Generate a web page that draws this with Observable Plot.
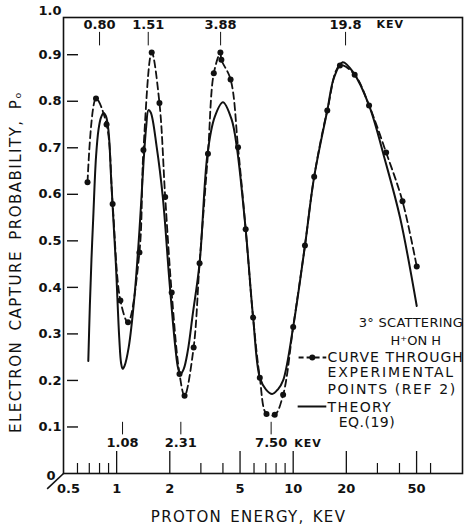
<!DOCTYPE html>
<html><head><meta charset="utf-8">
<script src="https://cdn.jsdelivr.net/npm/d3@7"></script>
<script src="https://cdn.jsdelivr.net/npm/@observablehq/plot@0.6"></script>
<style>
html,body{margin:0;padding:0;background:#fff;}
svg text{font-family:"DejaVu Sans",sans-serif;}
</style></head><body><div id="chart"></div>
<script>
// Experimental points (REF 2): proton energy (keV) and capture probability
const expE = [0.684,0.764,0.877,0.949,1.05,1.16,1.346,1.418,1.58,1.748,1.884,2.05,2.27,2.425,2.73,2.95,3.29,3.55,3.87,3.92,4.42,4.87,5.38,5.93,6.47,7.06,7.86,8.77,10.0,11.66,13.15,15.6,18.4,22.3,26.9,33.6,41.6,50.1];
const expP = [0.626,0.806,0.750,0.579,0.372,0.325,0.475,0.695,0.905,0.796,0.594,0.389,0.214,0.167,0.271,0.452,0.687,0.860,0.905,0.889,0.847,0.701,0.525,0.335,0.206,0.128,0.126,0.169,0.315,0.49,0.638,0.78,0.877,0.857,0.791,0.69,0.585,0.445];
// Theory, Eq. (19)
const theoryE = [0.691,0.705,0.72,0.737,0.764,0.79,0.815,0.844,0.87,0.90,0.929,0.96,0.99,1.035,1.06,1.081,1.11,1.17,1.26,1.346,1.418,1.47,1.514,1.56,1.687,1.826,1.99,2.15,2.23,2.30,2.40,2.53,2.70,2.95,3.27,3.59,4.0,4.47,4.8,5.38,5.93,6.47,7.0,7.6,8.2,8.77,10.0,11.66,13.15,15.6,17.0,19.06,21.9,26.9,33.2,40.3,50.1];
const theoryP = [0.242,0.36,0.46,0.55,0.68,0.74,0.765,0.775,0.768,0.735,0.64,0.54,0.45,0.29,0.237,0.225,0.232,0.271,0.378,0.522,0.665,0.745,0.781,0.776,0.701,0.594,0.414,0.271,0.226,0.214,0.225,0.264,0.343,0.452,0.687,0.766,0.798,0.762,0.70,0.525,0.335,0.206,0.181,0.171,0.181,0.20,0.315,0.49,0.638,0.78,0.85,0.884,0.862,0.791,0.672,0.55,0.36];

const yTicks = [0.1,0.2,0.3,0.4,0.5,0.6,0.7,0.8,0.9];
const yTickLabels = ["0.1","0.2","0.3","0.4","0.5","0.6","0.7","0.8","0.9"];
const xTickValues = [1,2,5,10,20,50];
const xTickLabels = ["1","2","5","10","20","50"];
const xMajor = [1,2,5,10,20,50];
const xMinor = [0.6,0.7,0.8,0.9,3,4,6,7,8,9,30,40,60];
const peakE = [0.80,1.51,3.88,19.8];
const peakLabels = ["0.80","1.51","3.88","19.8"];
const minE = [1.08,2.31,7.50];
const minLabels = ["1.08","2.31","7.50"];

const exp = expE.map((e,i)=>({e, p: expP[i]}));
const theory = theoryE.map((e,i)=>({e, p: theoryP[i]}));
const ink = "#111";
const B = {fontSize: 13, fontWeight: "bold", fill: ink};

const svg = Plot.plot({
  width: 465, height: 529,
  marginLeft: 63, marginRight: 3, marginTop: 17, marginBottom: 56,
  x: {type: "log", domain: [0.5, 91], axis: null},
  y: {domain: [0, 0.98], axis: null},
  style: {background: "#fff", color: ink},
  marks: [
    Plot.frame({stroke: ink, strokeWidth: 1.6}),
    Plot.tickY(yTicks, {y: d=>d, insetLeft: 4, insetRight: 384, strokeWidth: 1.4, stroke: ink}),
    Plot.tickX(xMajor, {x: d=>d, insetTop: 434, strokeWidth: 1.3, stroke: ink}),
    Plot.tickX(xMinor, {x: d=>d, insetTop: 446, strokeWidth: 1.2, stroke: ink}),
    Plot.text(yTicks, {x: 0.5, y: d=>d, text: (d,i)=>yTickLabels[i], textAnchor: "end", dx: -2, ...B}),
    Plot.text(["1.0"], {x: 0.5, y: 1.0, text: d=>d, textAnchor: "end", dx: -2, dy: 3, ...B}),
    Plot.text(["0"], {x: 0.5, y: 0, text: d=>d, textAnchor: "end", dx: -8, dy: 2, ...B}),
    Plot.link([0], {x1: 0.404, y1: -0.033, x2: 0.5, y2: 0, stroke: ink, strokeWidth: 1.6}),
    Plot.text(xTickValues, {x: d=>d, y: 0, text: (d,i)=>xTickLabels[i], dy: 15, ...B}),
    Plot.text(["0.5"], {x: 0.5, y: 0, text: d=>d, dy: 15, dx: 5, ...B}),
    // data
    Plot.line(theory, {x: "e", y: "p", curve: "catmull-rom", stroke: ink, strokeWidth: 2}),
    Plot.line(exp, {x: "e", y: "p", curve: "catmull-rom", stroke: ink, strokeWidth: 1.8, strokeDasharray: "7,4"}),
    Plot.dot(exp, {x: "e", y: "p", r: 3, fill: ink}),
    // peak / minimum annotations
    Plot.ruleX(peakE, {x: d=>d, y1: 0.919, y2: 0.948, stroke: ink, strokeWidth: 1}),
    Plot.text(peakE, {x: d=>d, y: 0.965, text: (d,i)=>peakLabels[i], ...B}),
    Plot.text([19.8], {x: d=>d, y: 0.965, text: ()=>"KEV", textAnchor: "start", dx: 31, fontSize: 11, fontWeight: "bold", fill: ink}),
    Plot.ruleX(minE, {x: d=>d, y1: 0.083, y2: 0.11, stroke: ink, strokeWidth: 1}),
    Plot.text(minE, {x: d=>d, y: 0.065, text: (d,i)=>minLabels[i], ...B}),
    Plot.text([7.50], {x: d=>d, y: 0.065, text: ()=>"KEV", textAnchor: "start", dx: 23, fontSize: 11, fontWeight: "bold", fill: ink}),
    // legend
    Plot.text(["3° SCATTERING"], {x: 23.5, y: 0.3245, text: d=>d, textAnchor: "start", fontSize: 13, fill: ink}),
    Plot.text(["H⁺ON H"], {x: 35.6, y: 0.2858, text: d=>d, textAnchor: "start", fontSize: 13, fill: ink}),
    Plot.text(["CURVE THROUGH"], {x: 15.65, y: 0.2493, text: d=>d, textAnchor: "start", fontSize: 14, fill: ink}),
    Plot.text(["EXPERIMENTAL"], {x: 15.65, y: 0.217, text: d=>d, textAnchor: "start", fontSize: 14, fill: ink}),
    Plot.text(["POINTS (REF 2)"], {x: 15.65, y: 0.1805, text: d=>d, textAnchor: "start", fontSize: 14, fill: ink}),
    Plot.text(["THEORY"], {x: 15.65, y: 0.1418, text: d=>d, textAnchor: "start", fontSize: 14, fill: ink}),
    Plot.text(["EQ.(19)"], {x: 18.1, y: 0.1096, text: d=>d, textAnchor: "start", fontSize: 14, fill: ink}),
    Plot.link([0], {x1: 10.73, x2: 15.4, y1: 0.2493, y2: 0.2493, stroke: ink, strokeWidth: 1.8, strokeDasharray: "5,3"}),
    Plot.dot([12.83], {x: d=>d, y: 0.2493, r: 3, fill: ink}),
    Plot.link([0], {x1: 10.6, x2: 15.4, y1: 0.144, y2: 0.144, stroke: ink, strokeWidth: 2}),
    // axis titles
    Plot.text(["ELECTRON CAPTURE PROBABILITY, Pₒ"], {frameAnchor: "left", text: d=>d, textAnchor: "middle", lineAnchor: "middle", rotate: -90, dx: -47, dy: 16.5, fontSize: 15, fill: ink}),
    Plot.text(["PROTON ENERGY, KEV"], {frameAnchor: "bottom", text: d=>d, textAnchor: "middle", lineAnchor: "middle", dx: -14.5, dy: 43.5, fontSize: 15, fill: ink})
  ]
});

const spacing = {
  "ELECTRON CAPTURE PROBABILITY, Pₒ": ["1.5px","4px"],
  "PROTON ENERGY, KEV": ["1.3px","2px"],
  "CURVE THROUGH": ["1.0px","0px"],
  "EXPERIMENTAL": ["1.8px","0px"],
  "POINTS (REF 2)": ["1.6px","0px"],
  "THEORY": ["1.4px","0px"],
  "EQ.(19)": ["0.5px","0px"],
  "3° SCATTERING": ["0.3px","0px"],
  "KEV": ["1px","0px"]
};
d3.select(svg).selectAll("text").each(function(){
  const s = spacing[this.textContent];
  if (s) { this.style.letterSpacing = s[0]; this.style.wordSpacing = s[1]; }
});
document.getElementById("chart").appendChild(svg);
</script></body></html>
